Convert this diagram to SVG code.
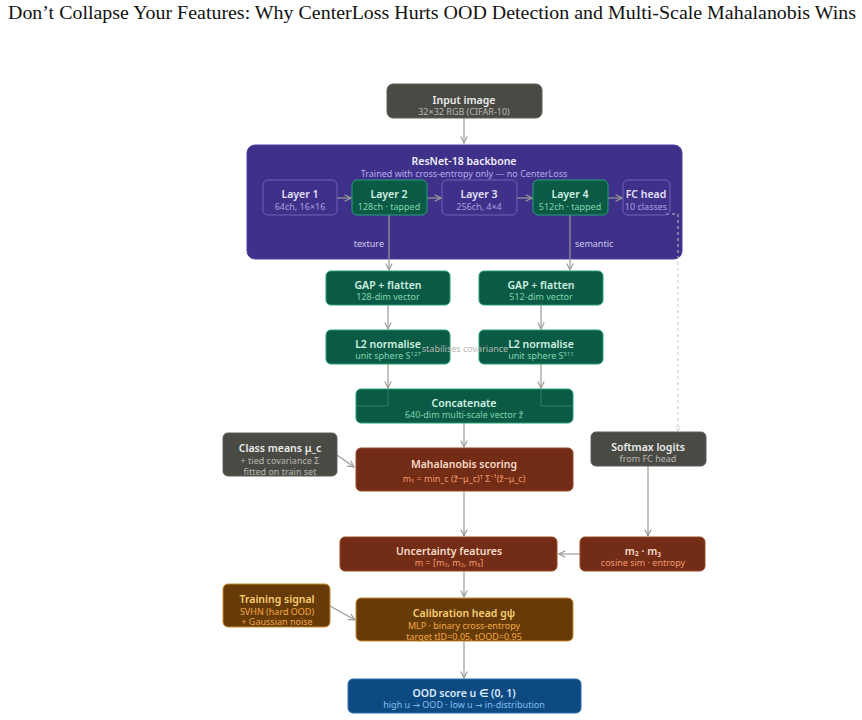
<svg xmlns="http://www.w3.org/2000/svg" width="862" height="720" viewBox="0 0 862 720">
<defs>
<marker id="ah" viewBox="0 0 10 10" refX="9" refY="5" markerWidth="8" markerHeight="8" orient="auto" markerUnits="userSpaceOnUse">
<polyline points="1,1 9,5 1,9" fill="none" stroke="#9a9a96" stroke-width="1.4"/>
</marker>
<marker id="ahs" viewBox="0 0 10 10" refX="9" refY="5" markerWidth="6" markerHeight="6" orient="auto" markerUnits="userSpaceOnUse">
<polyline points="1,1 9,5 1,9" fill="none" stroke="#c8c8c4" stroke-width="1.2"/>
</marker>
</defs>
<style>
text{font-family:"Noto Sans","Open Sans","DejaVu Sans",sans-serif;text-anchor:middle}
.t{font-size:10.5px;font-weight:600}
.s{font-size:9px}
.c{stroke:#9a9a96;stroke-width:1.2;fill:none;marker-end:url(#ah)}
.gray rect{fill:#4a4a45;stroke:#5e5e58}
.gray .t{fill:#ececec}.gray .s{fill:#b8b8b2}
.grn rect{fill:#0b5a45;stroke:#26a077}
.grn .t{fill:#d2f2e2}.grn .s{fill:#7fd6ae}
.lay rect{fill:none;stroke:#6e63b8}
.lay .t{fill:#e4e0f8}.lay .s{fill:#a9a0e0}
.red rect{fill:#732c15;stroke:#9a4a2a}
.red .t{fill:#f7dccb}.red .s{fill:#f29a72}
.brn rect{fill:#673b07;stroke:#c98b2e}
.brn .t{fill:#f8cf78}.brn .s{fill:#f0a848}
.blu rect{fill:#0d4a82;stroke:#2a6fae}
.blu .t{fill:#dcebfb}.blu .s{fill:#86bdf0}
</style>
<rect width="862" height="720" fill="#ffffff"/>
<text x="432" y="19" textLength="848" lengthAdjust="spacingAndGlyphs" style="font-family:'Liberation Serif','Times New Roman',serif;font-size:18px" fill="#111">Don’t Collapse Your Features: Why CenterLoss Hurts OOD Detection and Multi-Scale Mahalanobis Wins</text>

<g id="backbone">
<rect x="247" y="145" width="435" height="114" rx="8" fill="#3f3189" stroke="#4d40a0"/>
<text x="464" y="165" class="t" fill="#f0eefc">ResNet-18 backbone</text>
<text x="464" y="177" class="s" fill="#b4abec">Trained with cross-entropy only — no CenterLoss</text>
</g>

<g id="connectors">
<line x1="464" y1="118" x2="464" y2="143" class="c"/>
<line x1="337" y1="198" x2="351" y2="198" class="c"/>
<line x1="427" y1="198" x2="441" y2="198" class="c"/>
<line x1="517" y1="198" x2="532" y2="198" class="c"/>
<line x1="608" y1="198" x2="622" y2="198" class="c"/>
<line x1="389" y1="215" x2="389" y2="270" class="c"/>
<line x1="570" y1="215" x2="570" y2="270" class="c"/>
<line x1="388" y1="305" x2="388" y2="329" class="c"/>
<line x1="541" y1="305" x2="541" y2="329" class="c"/>
<line x1="388" y1="364" x2="388" y2="388" class="c"/>
<line x1="541" y1="364" x2="541" y2="388" class="c"/>
<line x1="464" y1="423" x2="464" y2="447" class="c"/>
<line x1="337" y1="455" x2="354" y2="467" class="c"/>
<line x1="464" y1="491" x2="464" y2="536" class="c"/>
<line x1="648" y1="466" x2="648" y2="536" class="c"/>
<line x1="580" y1="554" x2="559" y2="554" class="c"/>
<line x1="464" y1="571" x2="464" y2="597" class="c"/>
<line x1="330" y1="606" x2="355" y2="620" class="c"/>
<line x1="464" y1="641" x2="464" y2="678" class="c"/>
<path d="M666,214 L678,214 L678,431" fill="none" stroke="#c8c8c4" stroke-width="1" stroke-dasharray="3,3" marker-end="url(#ahs)"/>
<text x="384" y="247" class="s" fill="#cfc9f0" style="text-anchor:end">texture</text>
<text x="575" y="247" class="s" fill="#cfc9f0" style="text-anchor:start">semantic</text>
</g>

<g id="input" class="gray"><rect x="387" y="84" width="155" height="34" rx="6"/>
<text x="464" y="104" class="t">Input image</text><text x="464" y="115" class="s">32×32 RGB (CIFAR-10)</text></g>

<g id="layer1" class="lay"><rect x="263" y="180" width="74" height="35" rx="5"/>
<text x="300" y="198" class="t">Layer 1</text><text x="300" y="210" class="s">64ch, 16×16</text></g>
<g id="layer2" class="grn"><rect x="352" y="180" width="75" height="35" rx="5"/>
<text x="389" y="198" class="t">Layer 2</text><text x="389" y="210" class="s">128ch · tapped</text></g>
<g id="layer3" class="lay"><rect x="442" y="180" width="75" height="35" rx="5"/>
<text x="479" y="198" class="t">Layer 3</text><text x="479" y="210" class="s">256ch, 4×4</text></g>
<g id="layer4" class="grn"><rect x="533" y="180" width="75" height="35" rx="5"/>
<text x="570" y="198" class="t">Layer 4</text><text x="570" y="210" class="s">512ch · tapped</text></g>
<g id="fchead" class="lay"><rect x="623" y="180" width="47" height="35" rx="5"/>
<text x="646" y="198" class="t">FC head</text><text x="646" y="210" class="s">10 classes</text></g>

<g id="gap128" class="grn"><rect x="326" y="271" width="124" height="34" rx="5"/>
<text x="388" y="289" class="t">GAP + flatten</text><text x="388" y="300" class="s">128-dim vector</text></g>
<g id="gap512" class="grn"><rect x="479" y="271" width="124" height="34" rx="5"/>
<text x="541" y="289" class="t">GAP + flatten</text><text x="541" y="300" class="s">512-dim vector</text></g>

<g id="l2a" class="grn"><rect x="326" y="330" width="124" height="34" rx="5"/>
<text x="388" y="348" class="t">L2 normalise</text><text x="388" y="359" class="s">unit sphere S<tspan dy="-3" style="font-size:6px">127</tspan></text></g>
<g id="l2b" class="grn"><rect x="479" y="330" width="124" height="34" rx="5"/>
<text x="541" y="348" class="t">L2 normalise</text><text x="541" y="359" class="s">unit sphere S<tspan dy="-3" style="font-size:6px">511</tspan></text></g>
<text x="465" y="352" class="s" fill="#b8b8b4">stabilises covariance</text>

<g id="concat" class="grn"><rect x="356" y="389" width="217" height="34" rx="5"/>
<path d="M388,389 V406 H356 M541,389 V406 H573" fill="none" stroke="#3a8a6c" stroke-width="0.8"/>
<text x="464" y="407" class="t">Concatenate</text><text x="464" y="418" class="s">640-dim multi-scale vector z̃</text></g>

<g id="classmeans" class="gray"><rect x="223" y="433" width="114" height="43" rx="5"/>
<text x="280" y="452" class="t">Class means μ_c</text><text x="280" y="464" class="s">+ tied covariance Σ</text><text x="280" y="475" class="s">fitted on train set</text></g>

<g id="mahal" class="red"><rect x="356" y="448" width="217" height="43" rx="5"/>
<text x="464" y="468" class="t">Mahalanobis scoring</text><text x="464" y="482" class="s">m₁ = min_c (z̃−μ_c)ᵀ Σ⁻¹(z̃−μ_c)</text></g>

<g id="softmax" class="gray"><rect x="591" y="432" width="115" height="34" rx="5"/>
<text x="648" y="451" class="t">Softmax logits</text><text x="648" y="462" class="s">from FC head</text></g>

<g id="uncert" class="red"><rect x="340" y="537" width="217" height="34" rx="5"/>
<text x="449" y="555" class="t">Uncertainty features</text><text x="449" y="566" class="s">m = [m₁, m₂, m₃]</text></g>

<g id="m23" class="red"><rect x="580" y="537" width="125" height="34" rx="5"/>
<text x="643" y="555" class="t">m₂ · m₃</text><text x="643" y="566" class="s">cosine sim · entropy</text></g>

<g id="training" class="brn"><rect x="223" y="584" width="107" height="43" rx="5"/>
<text x="277" y="603" class="t">Training signal</text><text x="277" y="615" class="s">SVHN (hard OOD)</text><text x="277" y="625" class="s">+ Gaussian noise</text></g>

<g id="calib" class="brn"><rect x="356" y="598" width="217" height="43" rx="5"/>
<text x="464" y="617" class="t">Calibration head gψ</text><text x="464" y="629" class="s">MLP · binary cross-entropy</text><text x="464" y="640" class="s">target tID=0.05, tOOD=0.95</text></g>

<g id="oodscore" class="blu"><rect x="348" y="679" width="233" height="34" rx="5"/>
<text x="464" y="697" class="t">OOD score u ∈ (0, 1)</text><text x="464" y="708" class="s">high u → OOD · low u → in-distribution</text></g>
</svg>
